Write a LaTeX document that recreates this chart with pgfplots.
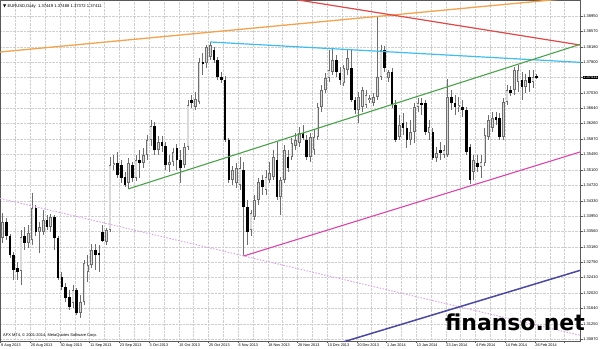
\documentclass[border=0pt]{standalone}
\usepackage{pgfplots}
\pgfplotsset{compat=1.18}
\usepackage{pgfplotstable}
\usepackage{fontspec}
\setmainfont{Liberation Sans}
\newfontfamily\dejavu{DejaVu Sans}

\definecolor{trOrange}{HTML}{F4A24C}
\definecolor{trRed}{HTML}{E04848}
\definecolor{trCyan}{HTML}{3EBEEE}
\definecolor{trGreen}{HTML}{4AA24A}
\definecolor{trMagenta}{HTML}{DD44AA}
\definecolor{trPlum}{HTML}{D8A0E8}
\definecolor{trNavy}{HTML}{4A48A0}
\definecolor{gridc}{HTML}{CFCFCF}
\definecolor{bullfill}{HTML}{DADADA}
\definecolor{candleline}{HTML}{6E6E6E}

\pgfplotstableread{
x o h l c
0 1.3340 1.3403 1.3328 1.3380
1 1.3380 1.3390 1.3335 1.3345
2 1.3345 1.3350 1.3290 1.3298
3 1.3298 1.3305 1.3235 1.3260
4 1.3265 1.3280 1.3235 1.3255
5 1.3258 1.3360 1.3223 1.3343
6 1.3345 1.3368 1.3310 1.3328
7 1.3328 1.3373 1.3315 1.3353
8 1.3335 1.3453 1.3323 1.3415
9 1.3415 1.3423 1.3345 1.3355
10 1.3355 1.3380 1.3303 1.3368
11 1.3355 1.3410 1.3348 1.3385
12 1.3385 1.3398 1.3360 1.3368
13 1.3368 1.3400 1.3355 1.3393
14 1.3393 1.3398 1.3310 1.3340
15 1.3340 1.3345 1.3235 1.3240
16 1.3243 1.3255 1.3210 1.3218
17 1.3218 1.3228 1.3180 1.3190
18 1.3193 1.3210 1.3160 1.3168
19 1.3178 1.3223 1.3165 1.3210
20 1.3210 1.3215 1.3148 1.3153
21 1.3153 1.3198 1.3140 1.3180
22 1.3180 1.3285 1.3173 1.3278
23 1.3255 1.3298 1.3230 1.3273
24 1.3273 1.3325 1.3265 1.3310
25 1.3310 1.3325 1.3260 1.3298
26 1.3303 1.3323 1.3255 1.3298
27 1.3355 1.3373 1.3330 1.3333
28 1.3330 1.3365 1.3323 1.3360
29 1.3360 1.3543 1.3355 1.3523
30 1.3523 1.3548 1.3510 1.3528
31 1.3528 1.3555 1.3490 1.3498
32 1.3523 1.3535 1.3478 1.3490
33 1.3493 1.3505 1.3468 1.3473
34 1.3478 1.3540 1.3463 1.3528
35 1.3523 1.3530 1.3480 1.3490
36 1.3490 1.3548 1.3483 1.3535
37 1.3535 1.3560 1.3490 1.3528
38 1.3528 1.3565 1.3515 1.3548
39 1.3548 1.3598 1.3535 1.3585
40 1.3585 1.3635 1.3570 1.3620
41 1.3620 1.3630 1.3548 1.3560
42 1.3560 1.3595 1.3548 1.3580
43 1.3580 1.3595 1.3555 1.3570
44 1.3570 1.3580 1.3510 1.3523
45 1.3523 1.3548 1.3505 1.3530
46 1.3530 1.3565 1.3520 1.3555
47 1.3565 1.3575 1.3510 1.3535
48 1.3535 1.3560 1.3478 1.3515
49 1.3523 1.3578 1.3515 1.3568
50 1.3568 1.3685 1.3560 1.3673
51 1.3685 1.3698 1.3665 1.3678
52 1.3668 1.3705 1.3660 1.3688
53 1.3680 1.3790 1.3675 1.3780
54 1.3780 1.3803 1.3748 1.3775
55 1.3778 1.3823 1.3765 1.3818
56 1.3793 1.3830 1.3785 1.3823
57 1.3810 1.3818 1.3778 1.3785
58 1.3785 1.3793 1.3735 1.3743
59 1.3743 1.3755 1.3728 1.3735
60 1.3735 1.3745 1.3580 1.3585
61 1.3585 1.3590 1.3478 1.3485
62 1.3485 1.3520 1.3473 1.3510
63 1.3478 1.3528 1.3465 1.3515
64 1.3473 1.3543 1.3460 1.3515
65 1.3510 1.3530 1.3295 1.3418
66 1.3418 1.3435 1.3323 1.3355
67 1.3360 1.3410 1.3345 1.3403
68 1.3393 1.3448 1.3385 1.3435
69 1.3435 1.3490 1.3423 1.3480
70 1.3485 1.3498 1.3448 1.3468
71 1.3460 1.3510 1.3448 1.3493
72 1.3485 1.3530 1.3478 1.3503
73 1.3493 1.3560 1.3485 1.3543
74 1.3535 1.3580 1.3435 1.3443
75 1.3443 1.3493 1.3398 1.3485
76 1.3485 1.3573 1.3478 1.3560
77 1.3543 1.3560 1.3505 1.3515
78 1.3543 1.3590 1.3535 1.3578
79 1.3570 1.3603 1.3560 1.3585
80 1.3578 1.3618 1.3568 1.3603
81 1.3603 1.3623 1.3585 1.3590
82 1.3585 1.3598 1.3535 1.3543
83 1.3543 1.3603 1.3530 1.3593
84 1.3560 1.3610 1.3548 1.3593
85 1.3593 1.3678 1.3585 1.3668
86 1.3668 1.3723 1.3655 1.3710
87 1.3710 1.3753 1.3703 1.3740
88 1.3740 1.3810 1.3730 1.3760
89 1.3755 1.3813 1.3748 1.3785
90 1.3785 1.3798 1.3743 1.3755
91 1.3753 1.3768 1.3723 1.3735
92 1.3728 1.3773 1.3720 1.3765
93 1.3760 1.3810 1.3748 1.3790
94 1.3765 1.3810 1.3680 1.3685
95 1.3685 1.3693 1.3650 1.3660
96 1.3660 1.3705 1.3628 1.3693
97 1.3668 1.3718 1.3655 1.3710
98 1.3673 1.3710 1.3665 1.3698
99 1.3685 1.3698 1.3678 1.3690
100 1.3678 1.3703 1.3670 1.3693
101 1.3693 1.3893 1.3685 1.3743
102 1.3743 1.3823 1.3735 1.3810
103 1.3810 1.3820 1.3755 1.3765
104 1.3740 1.3760 1.3730 1.3755
105 1.3755 1.3765 1.3665 1.3673
106 1.3673 1.3685 1.3580 1.3585
107 1.3593 1.3648 1.3585 1.3623
108 1.3628 1.3653 1.3598 1.3615
109 1.3615 1.3630 1.3565 1.3585
110 1.3585 1.3635 1.3573 1.3605
111 1.3605 1.3678 1.3578 1.3668
112 1.3668 1.3690 1.3655 1.3678
113 1.3678 1.3690 1.3648 1.3673
114 1.3678 1.3685 1.3598 1.3605
115 1.3603 1.3635 1.3585 1.3618
116 1.3605 1.3615 1.3535 1.3540
117 1.3540 1.3568 1.3530 1.3553
118 1.3560 1.3580 1.3535 1.3553
119 1.3548 1.3573 1.3540 1.3560
120 1.3548 1.3738 1.3543 1.3693
121 1.3693 1.3710 1.3660 1.3678
122 1.3678 1.3698 1.3648 1.3668
123 1.3668 1.3693 1.3655 1.3673
124 1.3668 1.3685 1.3643 1.3660
125 1.3660 1.3668 1.3548 1.3555
126 1.3568 1.3575 1.3475 1.3485
127 1.3505 1.3548 1.3485 1.3535
128 1.3528 1.3548 1.3505 1.3518
129 1.3518 1.3548 1.3490 1.3530
130 1.3528 1.3615 1.3520 1.3598
131 1.3593 1.3648 1.3585 1.3635
132 1.3615 1.3655 1.3605 1.3640
133 1.3643 1.3655 1.3623 1.3635
134 1.3640 1.3653 1.3585 1.3593
135 1.3593 1.3690 1.3585 1.3680
136 1.3680 1.3723 1.3673 1.3710
137 1.3710 1.3720 1.3695 1.3703
138 1.3710 1.3768 1.3698 1.3760
139 1.3730 1.3773 1.3705 1.3760
140 1.3735 1.3755 1.3685 1.3718
141 1.3718 1.3750 1.3703 1.3735
142 1.3743 1.3760 1.3705 1.3728
143 1.3730 1.3760 1.3715 1.3743
144 1.37449 1.37488 1.37372 1.37411
}\candles

\begin{document}
\begin{tikzpicture}
\useasboundingbox (0,0) rectangle (600bp,349bp);
\begin{axis}[
  at={(0,349bp)}, anchor=north west,
  scale only axis, width=580.7bp, height=341bp,
  xmin=-0.674, xmax=155.85, ymin=1.30825, ymax=1.3935,
  axis line style={black!65, line width=0.6bp},
  xtick pos=bottom, ytick pos=right, yticklabel pos=right,
  xtick={-0.5,7.5,15.5,23.5,31.5,39.5,47.5,55.5,63.5,71.5,79.5,87.5,95.5,103.5,111.5,119.5,127.5,135.5,143.5,151.5},
  xticklabels={8 Aug 2013,20 Aug 2013,30 Aug 2013,11 Sep 2013,23 Sep 2013,3 Oct 2013,15 Oct 2013,25 Oct 2013,6 Nov 2013,18 Nov 2013,28 Nov 2013,10 Dec 2013,20 Dec 2013,1 Jan 2014,13 Jan 2014,23 Jan 2014,4 Feb 2014,14 Feb 2014,26 Feb 2014,},
  minor x tick num=1,
  ytick={1.38950,1.38570,1.38180,1.37800,1.37420,1.37030,1.36640,1.36260,1.35870,1.35490,1.35100,1.34720,1.34330,1.33950,1.33560,1.33180,1.32790,1.32410,1.32020,1.31640,1.31250,1.30870},
  yticklabels={1.38950,1.38570,1.38180,1.37800,,1.37030,1.36640,1.36260,1.35870,1.35490,1.35100,1.34720,1.34330,1.33950,1.33560,1.33180,1.32790,1.32410,1.32020,1.31640,1.31250,1.30870},
  extra y ticks={1.37411}, extra y tick labels={1.37411},
  extra y tick style={grid=none, tick label style={fill=black, text=white, inner sep=0.6bp}},
  grid=both,
  major grid style={gridc, densely dotted, line width=0.4bp},
  minor grid style={gridc, densely dotted, line width=0.4bp},
  tick align=outside, major tick length=2bp, minor tick length=0bp,
  tick style={black!65, line width=0.5bp},
  x tick label style={font=\fontsize{3.8}{4}\selectfont, anchor=north west, inner sep=0.4bp},
  y tick label style={font=\fontsize{4}{4.5}\selectfont, anchor=west, inner sep=0.5bp},
]
% wicks
\addplot[draw=none, mark=none, forget plot, error bars/.cd, y dir=both, y explicit, error mark=none,
  error bar style={draw=candleline, line width=0.8bp}]
  table[x=x, y=c, y error plus expr=\thisrow{h}-\thisrow{c}, y error minus expr=\thisrow{c}-\thisrow{l}] {\candles};
% bearish bodies
\addplot[draw=none, mark=none, forget plot, error bars/.cd, y dir=both, y explicit, error mark=none,
  error bar style={draw=black, line width=2.6bp}]
  table[x=x, y expr=(\thisrow{o}+\thisrow{c})/2, y error expr={(\thisrow{c}<\thisrow{o}) ? (\thisrow{o}-\thisrow{c})/2 : 0}] {\candles};
% bullish bodies: outline
\addplot[draw=none, mark=none, forget plot, error bars/.cd, y dir=both, y explicit, error mark=none,
  error bar style={draw=candleline, line width=2.6bp}]
  table[x=x, y expr=(\thisrow{o}+\thisrow{c})/2, y error expr={(\thisrow{c}>\thisrow{o}) ? (\thisrow{c}-\thisrow{o})/2 : 0}] {\candles};
% bullish bodies: fill
\addplot[draw=none, mark=none, forget plot, error bars/.cd, y dir=both, y explicit, error mark=none,
  error bar style={draw=bullfill, line width=1.2bp}]
  table[x=x, y expr=(\thisrow{o}+\thisrow{c})/2, y error expr={(\thisrow{c}>\thisrow{o}) ? max((\thisrow{c}-\thisrow{o})/2-0.0002,0) : 0}] {\candles};
% trend lines
\addplot[trOrange, line width=1.3bp] coordinates {(-0.674,1.3805) (156,1.3942)};
\addplot[trRed, line width=1.2bp] coordinates {(75,1.3942) (156,1.3822)};
\addplot[trCyan, line width=1.2bp] coordinates {(56,1.3830) (156,1.3779)};
\addplot[trGreen, line width=1.1bp] coordinates {(34,1.3463) (156,1.3825)};
\addplot[trMagenta, line width=1.1bp] coordinates {(65,1.3295) (156,1.3556)};
\addplot[trPlum, line width=0.9bp, dash pattern=on 1.5bp off 1.5bp] coordinates {(-0.674,1.3439) (156,1.3096)};
\addplot[trNavy, line width=1.5bp] coordinates {(80,1.3047) (156,1.3260)};
\end{axis}
\node[anchor=west, inner sep=0pt, font=\fontsize{4.2}{5}\selectfont] at (3bp,343bp) {{\dejavu ▼}\ EURUSD,Daily\ \ 1.37449 1.37488 1.37372 1.37411};
\node[anchor=west, inner sep=0pt, font=\fontsize{4}{5}\selectfont] at (3bp,14bp) {AFX MT4, © 2001-2014, MetaQuotes Software Corp.};
\node[anchor=base east, inner sep=0pt, font=\dejavu\bfseries\fontsize{22}{24}\selectfont] at (585bp,19bp) {finanso.net};
\end{tikzpicture}
\end{document}
